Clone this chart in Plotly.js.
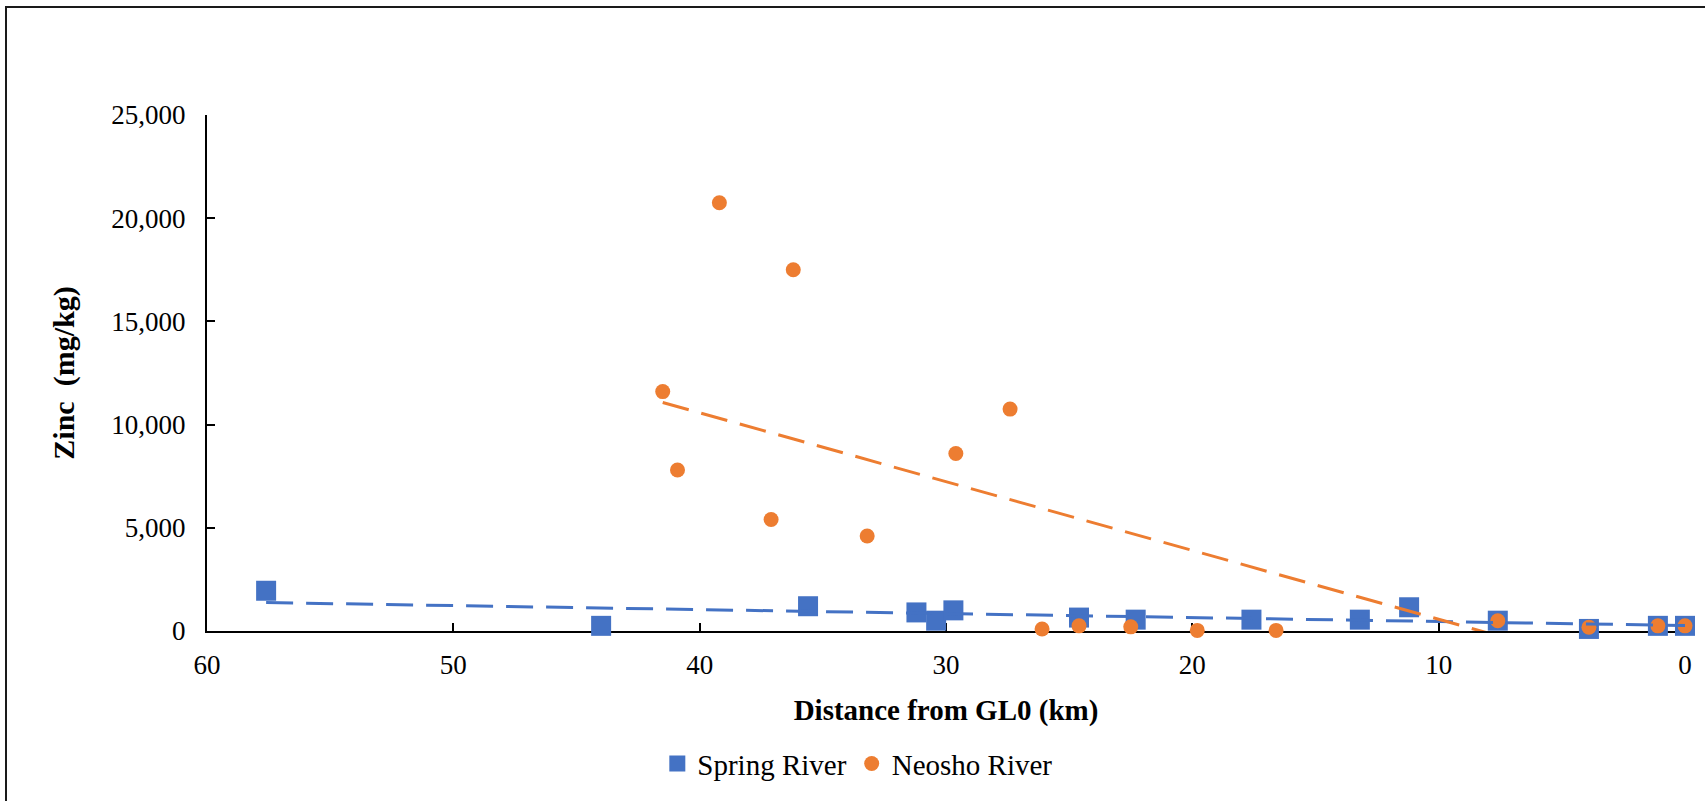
<!DOCTYPE html>
<html>
<head>
<meta charset="utf-8">
<script src="https://cdn.plot.ly/plotly-3.0.1.min.js"></script>
<style>
  html, body { margin: 0; padding: 0; background: #fff; overflow: hidden; }
  #wrap { position: relative; width: 1705px; height: 801px; overflow: hidden; background: #fff; }
  #chart { position: absolute; left: 0; top: 0; width: 1705px; height: 801px; }
  #frame { position: absolute; left: 5px; top: 6px; width: 1760px; height: 860px; box-sizing: border-box;
           border-style: solid; border-color: #1a1a1a; border-width: 2px 0 0 2px; pointer-events: none; }
</style>
</head>
<body>
<div id="wrap">
  <div id="chart"></div>
  <div id="frame"></div>
</div>
<script>
// Sampling distance from GL0 (km) and zinc concentration (mg/kg)
const springKm = [57.6, 44.0, 35.6, 31.2, 30.4, 29.7, 24.6, 22.3, 17.6, 13.2, 11.2, 7.6, 3.9, 1.1, 0];
const springZn = [1950, 250, 1200, 900, 500, 1000, 650, 550, 550, 550, 1150, 500, 100, 250, 250];

const neoshoKm = [41.5, 40.9, 39.2, 37.1, 36.2, 33.2, 29.6, 27.4, 26.1, 24.6, 22.5, 19.8, 16.6, 7.6, 3.9, 1.1, 0];
const neoshoZn = [11600, 7800, 20750, 5400, 17500, 4600, 8600, 10750, 100, 250, 200, 30, 30, 500, 180, 250, 250];

const seriesNames = ['Spring River', 'Neosho River'];
const xTitle = 'Distance from GL0 (km)';
const yTitle = 'Zinc\u00a0\u00a0(mg/kg)';

const BLUE = '#4472C4';
const ORANGE = '#ED7D31';
const FONT = 'Liberation Serif';

// Ordinary least-squares line spanning the data's x extent
function linearTrend(xs, ys) {
  const n = xs.length;
  const mx = xs.reduce((a, b) => a + b, 0) / n;
  const my = ys.reduce((a, b) => a + b, 0) / n;
  let sxy = 0, sxx = 0;
  for (let i = 0; i < n; i++) {
    sxy += (xs[i] - mx) * (ys[i] - my);
    sxx += (xs[i] - mx) * (xs[i] - mx);
  }
  const slope = sxy / sxx;
  const icpt = my - slope * mx;
  const x0 = Math.min(...xs), x1 = Math.max(...xs);
  return { x: [x1, x0], y: [icpt + slope * x1, icpt + slope * x0] };
}

const springFit = linearTrend(springKm, springZn);
const neoshoFit = linearTrend(neoshoKm, neoshoZn);

const traces = [
  {
    type: 'scatter', mode: 'markers', name: seriesNames[0],
    x: springKm, y: springZn, cliponaxis: false,
    marker: { symbol: 'square', size: 20, color: BLUE, line: { width: 0 } }
  },
  {
    type: 'scatter', mode: 'markers', name: seriesNames[1],
    x: neoshoKm, y: neoshoZn, cliponaxis: false,
    marker: { symbol: 'circle', size: 15, color: ORANGE, line: { width: 0 } }
  },
  {
    type: 'scatter', mode: 'lines', showlegend: false, hoverinfo: 'skip',
    x: springFit.x, y: springFit.y,
    line: { color: BLUE, width: 3, dash: '27px,13px' }
  },
  {
    type: 'scatter', mode: 'lines', showlegend: false, hoverinfo: 'skip',
    x: neoshoFit.x, y: neoshoFit.y,
    line: { color: ORANGE, width: 3, dash: '27px,13px' }
  }
];

const axisCommon = {
  showgrid: false, zeroline: false,
  showline: true, linewidth: 2, linecolor: '#000',
  ticks: 'inside', ticklen: 8, tickwidth: 2, tickcolor: '#000',
  tickfont: { family: FONT, size: 27, color: '#000' },
  automargin: false
};

const layout = {
  width: 1705, height: 801,
  margin: { l: 207, r: 20, t: 115, b: 168, pad: 0 },
  paper_bgcolor: '#fff', plot_bgcolor: '#fff',
  font: { family: FONT, size: 27, color: '#000' },
  showlegend: true,
  legend: {
    orientation: 'h', x: 0.440, xanchor: 'center', y: -0.257, yanchor: 'middle',
    font: { family: FONT, size: 29, color: '#000' },
    bgcolor: 'rgba(0,0,0,0)'
  },
  xaxis: Object.assign({}, axisCommon, {
    range: [60, 0], tick0: 0, dtick: 10,
    layer: 'below traces',
    ticklabelstandoff: 9,
    title: { text: xTitle, standoff: 20,
             font: { family: FONT, size: 29, color: '#000', weight: 'bold' } }
  }),
  yaxis: Object.assign({}, axisCommon, {
    range: [0, 25000], tick0: 0, dtick: 5000, tickformat: ',',
    layer: 'below traces',
    ticklabelstandoff: 14,
    title: { text: yTitle, standoff: 28,
             font: { family: FONT, size: 30, color: '#000', weight: 'bold' } }
  })
};

Plotly.newPlot('chart', traces, layout, { staticPlot: true, displayModeBar: false });
</script>
</body>
</html>
